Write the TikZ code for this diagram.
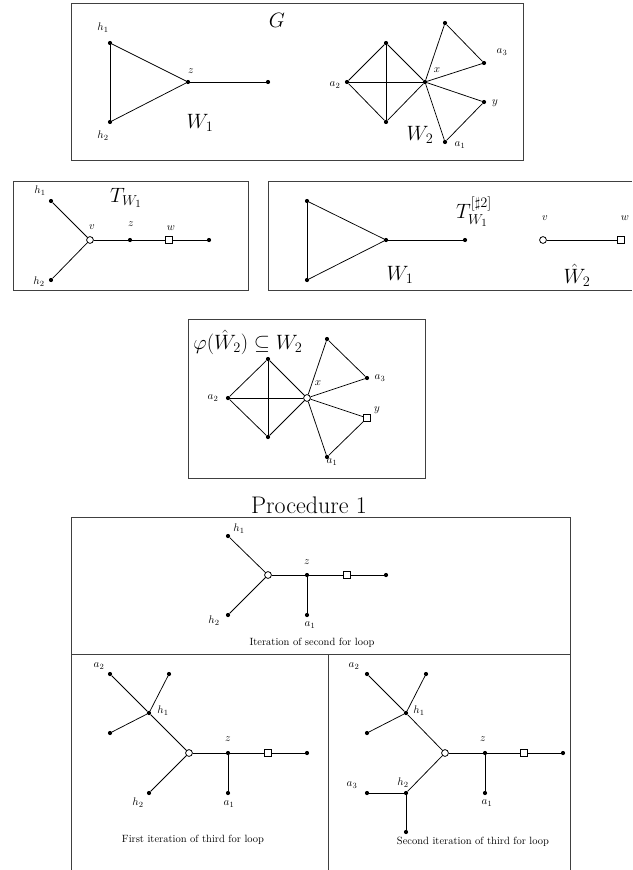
\documentclass[tikz,border=0pt]{standalone}
\usepackage{amsmath}
\usepackage{amssymb}
\usepackage{tikz}
\usetikzlibrary{positioning}

\tikzset{
  dot/.style={circle, fill=black, inner sep=0pt, minimum size=4.2pt},
  root/.style={circle, draw=black, fill=white, line width=0.8pt, inner sep=0pt, minimum size=6.8pt},
  sink/.style={rectangle, draw=black, fill=white, line width=0.8pt, inner sep=0pt, minimum size=6.8pt},
  lbl/.style={inner sep=0pt, font=\fontsize{11}{13}\selectfont},
  big/.style={inner sep=0pt, font=\fontsize{21}{25}\selectfont},
  caption/.style={inner sep=0pt, font=\fontsize{10.5}{13}\selectfont},
  edge/.style={line width=0.75pt},
  frame/.style={line width=0.8pt, draw=black!75}
}

\begin{document}
\begin{tikzpicture}[x=1pt, y=-1pt]
\useasboundingbox (0,0) rectangle (632,870);

% frames
\draw[frame] (71,3) rectangle (523,160);
\draw[frame] (13,181) rectangle (248,290);
\draw[frame] (632,181) -- (268,181) -- (268,290) -- (632,290);
\draw[frame] (188,319) rectangle (425,478);
\draw[frame] (71,870) -- (71,517) -- (570,517) -- (570,870);
\draw[frame] (71,654) -- (570,654);
\draw[frame] (328,654) -- (328,870);

% G = W_1 + W_2
\node[big] (gG) at (277,20) {$G$};
\node[dot] (gh1) at (110,43) {};
\node[dot] (gh2) at (110,122) {};
\node[dot] (gz) at (188,82) {};
\node[dot] (ge) at (268,82) {};
\node[lbl] (gh1l) at (103,28) {$h_1$};
\node[lbl] (gh2l) at (103,136) {$h_2$};
\node[lbl] (gzl) at (191,71) {$z$};
\node[big] (gW1) at (200,123) {$W_1$};
\foreach \a/\b in {gh1/gh2, gh1/gz, gh2/gz, gz/ge}
  \draw[edge] (\a) -- (\b);

\node[dot] (ga2) at (347,82) {};
\node[dot] (gt) at (386,43) {};
\node[dot] (gb) at (386,122) {};
\node[dot] (gx) at (425,82) {};
\node[dot] (gc) at (445,23) {};
\node[dot] (ga3) at (484,63) {};
\node[dot] (gy) at (484,102) {};
\node[dot] (ga1) at (445,142) {};
\node[lbl] (ga2l) at (335,85) {$a_2$};
\node[lbl] (gxl) at (437,70) {$x$};
\node[lbl] (ga3l) at (502,52) {$a_3$};
\node[lbl] (gyl) at (495,103) {$y$};
\node[lbl] (ga1l) at (460,145) {$a_1$};
\node[big] (gW2) at (420,135) {$W_2$};
\foreach \a/\b in {ga2/gt, gt/gx, gx/gb, gb/ga2, ga2/gx, gt/gb,
                   gx/gc, gc/ga3, ga3/gx, gx/gy, gy/ga1, ga1/gx}
  \draw[edge] (\a) -- (\b);

% T_{W_1}
\node[big] (tT) at (126,198) {$T_{W_1}$};
\node[dot] (th1) at (51,201) {};
\node[dot] (th2) at (51,280) {};
\node[root] (tv) at (90,240) {};
\node[dot] (tz) at (130,240) {};
\node[sink] (tw) at (169,240) {};
\node[dot] (te) at (209,240) {};
\node[lbl] (th1l) at (40,191) {$h_1$};
\node[lbl] (th2l) at (39,282) {$h_2$};
\node[lbl] (tvl) at (92,227) {$v$};
\node[lbl] (tzl) at (131,224) {$z$};
\node[lbl] (twl) at (171,228) {$w$};
\foreach \a/\b in {th1/tv, th2/tv, tv/tz, tz/tw, tw/te}
  \draw[edge] (\a) -- (\b);

% T^{[#2]}_{W_1}
\node[big] (sT) at (474,212) {$T^{[\sharp 2]}_{W_1}$};
\node[dot] (sh1) at (307,201) {};
\node[dot] (sh2) at (307,280) {};
\node[dot] (sz) at (386,240) {};
\node[dot] (se) at (465,240) {};
\node[big] (sW1) at (400,275) {$W_1$};
\foreach \a/\b in {sh1/sh2, sh1/sz, sh2/sz, sz/se}
  \draw[edge] (\a) -- (\b);
\node[root] (sv) at (543,240) {};
\node[sink] (sw) at (621,240) {};
\node[lbl] (svl) at (545,218) {$v$};
\node[lbl] (swl) at (625,218) {$w$};
\node[big] (sW2) at (577,275) {$\hat{W}_2$};
\draw[edge] (sv) -- (sw);

% phi(W_2 hat)
\node[big] (pP) at (248,342) {$\varphi(\hat{W}_2) \subseteq W_2$};
\node[dot] (pa2) at (228,398) {};
\node[dot] (pt) at (268,359) {};
\node[dot] (pb) at (268,437) {};
\node[root] (px) at (307,398) {};
\node[dot] (pc) at (327,339) {};
\node[dot] (pa3) at (367,378) {};
\node[sink] (py) at (367,418) {};
\node[dot] (pa1) at (327,457) {};
\node[lbl] (pa2l) at (213,398) {$a_2$};
\node[lbl] (pxl) at (318,383) {$x$};
\node[lbl] (pa3l) at (380,378) {$a_3$};
\node[lbl] (pyl) at (377,410) {$y$};
\node[lbl] (pa1l) at (332,462) {$a_1$};
\foreach \a/\b in {pa2/pt, pt/px, px/pb, pb/pa2, pa2/px, pt/pb,
                   px/pc, pc/pa3, pa3/px, px/py, py/pa1, pa1/px}
  \draw[edge] (\a) -- (\b);

% Procedure 1
\node[inner sep=0pt, font=\fontsize{24}{28}\selectfont] (title) at (309,505) {Procedure 1};

% second for loop
\node[dot] (qh1) at (228,536) {};
\node[dot] (qh2) at (228,615) {};
\node[root] (qv) at (268,575) {};
\node[dot] (qz) at (307,575) {};
\node[sink] (qw) at (347,575) {};
\node[dot] (qe) at (386,575) {};
\node[dot] (qa1) at (307,615) {};
\node[lbl] (qh1l) at (239,529) {$h_1$};
\node[lbl] (qh2l) at (214,621) {$h_2$};
\node[lbl] (qzl) at (307,562) {$z$};
\node[lbl] (qa1l) at (310,625) {$a_1$};
\node[caption] (qcap) at (312,643) {Iteration of second for loop};
\foreach \a/\b in {qh1/qv, qh2/qv, qv/qz, qz/qw, qw/qe, qz/qa1}
  \draw[edge] (\a) -- (\b);

% first iteration of third for loop
\node[dot] (fa2) at (110,674) {};
\node[dot] (fh1) at (149,713) {};
\node[dot] (fr) at (169,674) {};
\node[dot] (fl) at (110,733) {};
\node[root] (fv) at (189,753) {};
\node[dot] (fz) at (228,753) {};
\node[sink] (fw) at (268,753) {};
\node[dot] (fe) at (307,753) {};
\node[dot] (fh2) at (149,793) {};
\node[dot] (fa1) at (228,793) {};
\node[lbl] (fa2l) at (99,666) {$a_2$};
\node[lbl] (fh1l) at (163,711) {$h_1$};
\node[lbl] (fzl) at (228,739) {$z$};
\node[lbl] (fh2l) at (138,803) {$h_2$};
\node[lbl] (fa1l) at (229,804) {$a_1$};
\node[caption] (fcap) at (193,840) {First iteration of third for loop};
\foreach \a/\b in {fa2/fh1, fr/fh1, fl/fh1, fh1/fv, fh2/fv, fv/fz, fz/fw, fw/fe, fz/fa1}
  \draw[edge] (\a) -- (\b);

% second iteration of third for loop
\node[dot] (na2) at (367,674) {};
\node[dot] (nh1) at (406,713) {};
\node[dot] (nr) at (426,674) {};
\node[dot] (nl) at (367,733) {};
\node[root] (nv) at (445,753) {};
\node[dot] (nz) at (485,753) {};
\node[sink] (nw) at (524,753) {};
\node[dot] (ne) at (563,753) {};
\node[dot] (nh2) at (406,793) {};
\node[dot] (na3) at (367,793) {};
\node[dot] (nd) at (406,832) {};
\node[dot] (na1) at (485,793) {};
\node[lbl] (na2l) at (354,666) {$a_2$};
\node[lbl] (nh1l) at (419,711) {$h_1$};
\node[lbl] (nzl) at (483,739) {$z$};
\node[lbl] (nh2l) at (403,783) {$h_2$};
\node[lbl] (na3l) at (352,785) {$a_3$};
\node[lbl] (na1l) at (487,803) {$a_1$};
\node[caption] (ncap) at (473,842) {Second iteration of third for loop};
\foreach \a/\b in {na2/nh1, nr/nh1, nl/nh1, nh1/nv, nh2/nv, na3/nh2, nh2/nd,
                   nv/nz, nz/nw, nw/ne, nz/na1}
  \draw[edge] (\a) -- (\b);
\end{tikzpicture}
\end{document}
